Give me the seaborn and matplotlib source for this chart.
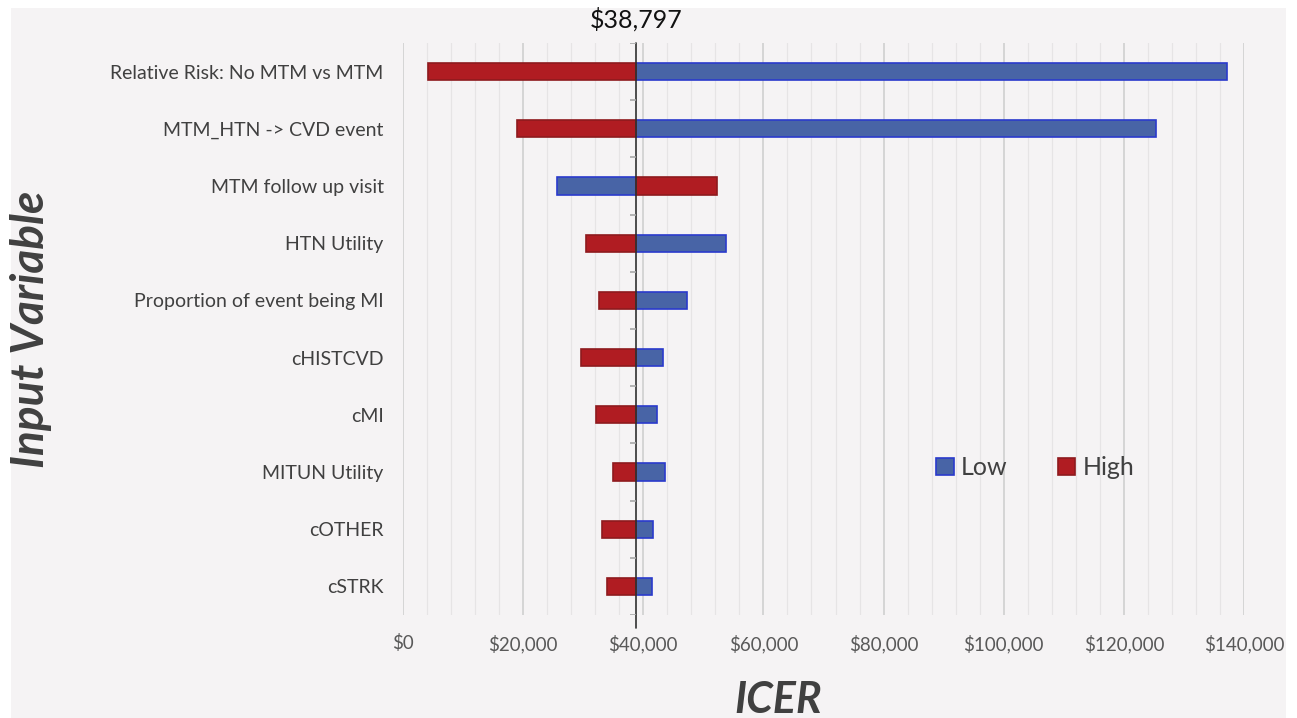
import pandas as pd
import numpy as np
import matplotlib.pyplot as plt
import matplotlib.ticker as mticker
from matplotlib.patches import Rectangle
import seaborn as sns

# Tornado diagram data: ICER when each input is set to its low / high value
base_icer = 38797
variables = ['Relative Risk: No MTM vs MTM', 'MTM_HTN -> CVD event', 'MTM follow up visit',
             'HTN Utility', 'Proportion of event being MI', 'cHISTCVD', 'cMI',
             'MITUN Utility', 'cOTHER', 'cSTRK']
low_icer = [137200, 125300, 25600, 53700, 47300, 43300, 42200, 43600, 41700, 41400]
high_icer = [4200, 19000, 52200, 30400, 32600, 29700, 32200, 34900, 33100, 34000]

df = pd.concat([
    pd.DataFrame({'Variable': variables, 'Case': 'Low', 'ICER': low_icer}),
    pd.DataFrame({'Variable': variables, 'Case': 'High', 'ICER': high_icer}),
])
# bars grow out of the base-case ICER
df['Delta'] = df['ICER'] - base_icer

sns.set_style("white")
plt.rcParams['font.family'] = ['Lato', 'DejaVu Sans']

panel_color = '#f5f3f4'
fig = plt.figure(figsize=(12.97, 7.18), dpi=100, facecolor='white')
fig.patches.append(Rectangle((11 / 1297, 0), 1275 / 1297, 710 / 718,
                             transform=fig.transFigure, facecolor=panel_color,
                             edgecolor='none', zorder=-10))
ax = fig.add_axes([403 / 1297, 1 - 615 / 718, 841 / 1297, 572 / 718])
ax.set_facecolor('none')

cases = ['Low', 'High']
colors = {'Low': '#4864a6', 'High': '#b01c22'}
edges = {'Low': '#2a3acc', 'High': '#8e1a1e'}
sns.barplot(data=df, x='Delta', y='Variable', hue='Case', hue_order=cases,
            palette=colors, saturation=1, dodge=False, width=0.3, orient='h',
            errorbar=None, left=base_icer, linewidth=1.2, legend=False, ax=ax, zorder=3)

for cont, case in zip(ax.containers, cases):
    for bar in cont:
        bar.set_edgecolor(edges[case])

# grid
ax.set_xlim(0, 140000)
ax.set_ylim(9.5, -0.5)
ax.xaxis.set_major_locator(mticker.MultipleLocator(20000))
ax.xaxis.set_minor_locator(mticker.MultipleLocator(4000))
ax.xaxis.set_major_formatter(mticker.StrMethodFormatter('${x:,.0f}'))
ax.grid(axis='x', which='major', color='#d2d2d2', linewidth=1.3, zorder=0)
ax.grid(axis='x', which='minor', color='#e6e4e5', linewidth=0.9, zorder=0)
ax.grid(axis='y', visible=False)
ax.set_axisbelow(True)
for s in ax.spines.values():
    s.set_visible(False)

ax.tick_params(axis='x', which='both', length=0, pad=14, labelsize=13.5, labelcolor='#595959')
ax.tick_params(axis='y', length=0, pad=14, labelsize=14, labelcolor='#404040')
ax.set_xlabel('')
ax.set_ylabel('')

# base-case axis line and its row ticks
ax.axvline(base_icer, ymin=-0.022, ymax=1, color='#303030', linewidth=1.2, zorder=4, clip_on=False)
ax.hlines(np.arange(-0.5, len(variables)), base_icer - 1000, base_icer,
          color='#a8a8a8', linewidth=1.2, zorder=4)
ax.text(base_icer, 1.02, '${:,}'.format(base_icer), transform=ax.get_xaxis_transform(),
        ha='center', va='bottom', fontsize=18, color='#111111')

fig.text(778 / 1297, 18 / 718, 'ICER', ha='center', va='center', fontsize=31,
         fontweight='bold', fontstyle='italic', color='#404040')
fig.text(31 / 1297, 1 - 329 / 718, 'Input Variable', ha='center', va='center', rotation=90,
         fontsize=33, fontweight='bold', fontstyle='italic', color='#404040')

handles = [cont.patches[0] for cont in ax.containers]
leg = ax.legend(handles, cases, loc='center', bbox_to_anchor=(0.752, 0.257), ncol=2,
                frameon=False, fontsize=18, handlelength=0.7, handleheight=0.7,
                handletextpad=0.3, columnspacing=2.0, labelcolor='#404040')

fig.savefig('out.png', dpi=100, facecolor='white')
